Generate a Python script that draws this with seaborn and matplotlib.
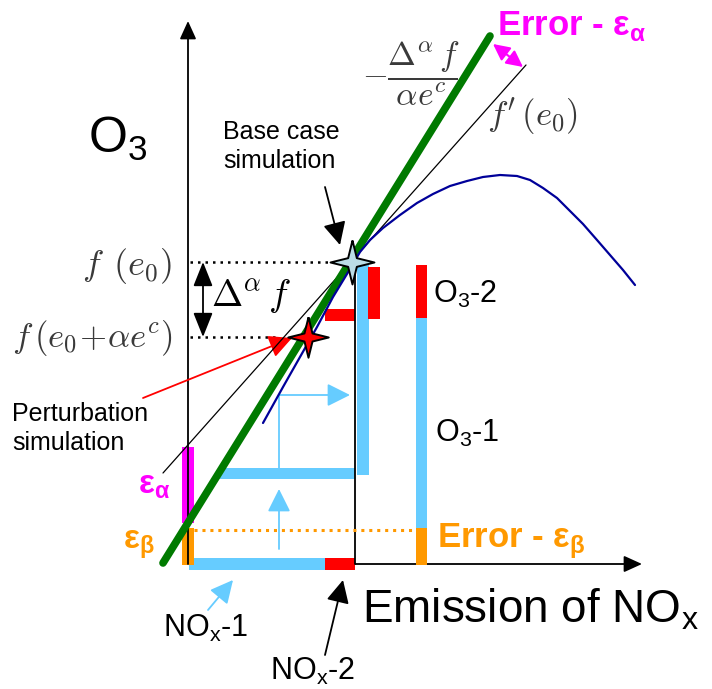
import numpy as np
import matplotlib
matplotlib.use("Agg")
import matplotlib.pyplot as plt
import seaborn as sns

sns.set_theme(style="white")
plt.rcParams["font.family"] = ["Liberation Sans", "DejaVu Sans"]
plt.rcParams["text.color"] = "black"

# response curve O3 = f(NOx) (x: emission, y: O3)
curve_x = [0.75, 0.95, 1.12, 1.29, 1.45, 1.62, 1.72, 1.82, 1.95, 2.12, 2.29,
           2.45, 2.62, 2.79, 2.95, 3.12, 3.29, 3.42, 3.55, 3.69, 3.82, 3.95,
           4.09, 4.22, 4.35, 4.47]
curve_y = [1.41, 1.77, 2.07, 2.37, 2.67, 2.95, 3.12, 3.24, 3.36, 3.49, 3.61,
           3.70, 3.78, 3.83, 3.87, 3.89, 3.88, 3.84, 3.76, 3.66, 3.53, 3.40,
           3.24, 3.09, 2.94, 2.79]

# finite difference line (green) and tangent f'(e0) (black)
fd_x = [-0.25, 3.02]
fd_y = [0.01, 5.28]
tan_x = [-0.25, 3.38]
tan_y = [0.91, 4.99]

# simulations
base_x, base_y = 1.64, 3.02
pert_x, pert_y = 1.20, 2.27

# O3 response split (orange = eps_beta, blue = O3-1, red = O3-2)
o3_bottoms = [-0.01, 0.36, 2.46]
o3_tops = [0.36, 2.46, 2.99]
o3_colors = ["#FF9900", "#66CCFF", "#FF0000"]

# NOx steps
nox1_left, nox1_right = 0.01, 1.37
nox2_left, nox2_right = 1.37, 1.67
mid_left, mid_right, mid_y = 0.30, 1.67, 0.91
eps_b = (-0.01, 0.36)
eps_a = (0.41, 1.17)

fig = plt.figure(figsize=(7.12, 6.89), dpi=100)
ax = fig.add_axes([0, 0, 1, 1])
ax.set_xlim(-1.88, 5.24)
ax.set_ylim(-1.25, 5.64)
ax.axis("off")

BLUE = "#66CCFF"
RED = "#FF0000"
ORANGE = "#FF9900"
MAG = "#FF00FF"
GRAY = "#3a3a3a"

# axes with arrow heads
head = "-|>,head_length=0.55,head_width=0.25"
ax.annotate("", xy=(0, 5.43), xytext=(0, 0),
            arrowprops=dict(arrowstyle=head, color="black", lw=1.3,
                            mutation_scale=20, shrinkA=0, shrinkB=0))
ax.annotate("", xy=(4.54, 0), xytext=(0, 0),
            arrowprops=dict(arrowstyle=head, color="black", lw=1.3,
                            mutation_scale=20, shrinkA=0, shrinkB=0), zorder=1)

# bars
bk = dict(linewidth=0, zorder=2)
ax.barh(0.0, nox1_right - nox1_left, left=nox1_left, height=0.12, color=BLUE, **bk)
ax.barh(0.0, nox2_right - nox2_left, left=nox2_left, height=0.12, color=RED, **bk)
ax.barh(mid_y, mid_right - mid_left, left=mid_left, height=0.11, color=BLUE, **bk)
ax.barh(2.49, 0.30, left=1.37, height=0.12, color=RED, **bk)
ax.bar(0.005, eps_b[1] - eps_b[0], bottom=eps_b[0], width=0.12, color=ORANGE, **bk)
ax.bar(0.005, eps_a[1] - eps_a[0], bottom=eps_a[0], width=0.12, color=MAG, **bk)
ax.bar(1.75, 2.99 - 0.89, bottom=0.89, width=0.12, color=BLUE, **bk)
ax.bar(1.86, 2.97 - 2.45, bottom=2.45, width=0.12, color=RED, **bk)
for b, t, c in zip(o3_bottoms, o3_tops, o3_colors):
    ax.bar(2.335, t - b, bottom=b, width=0.11, color=c, **bk)

# vertical line from base case to x axis
ax.plot([1.67, 1.67], [0, 3.0], color="black", lw=1.3, zorder=3)

# dotted guides
ax.plot([0.02, 1.45], [3.02, 3.02], color="black", lw=1.8, ls=(0, (1, 2)), zorder=3)
ax.plot([0.02, 0.92], [2.27, 2.27], color="black", lw=1.8, ls=(0, (1, 2)), zorder=3)
ax.plot([0.06, 2.28], [0.34, 0.34], color=ORANGE, lw=2.2, ls=(0, (1, 1.6)), zorder=3)

# light blue thin arrows
thin = dict(arrowstyle="-|>,head_length=0.7,head_width=0.35", color=BLUE, lw=1.3,
            mutation_scale=20, shrinkA=0, shrinkB=0)
ax.annotate("", xy=(0.91, 0.75), xytext=(0.91, 0.15), arrowprops=thin)
ax.plot([0.91, 0.91], [0.96, 1.69], color=BLUE, lw=1.3, zorder=3)
ax.annotate("", xy=(1.62, 1.69), xytext=(0.91, 1.69), arrowprops=thin)
ax.annotate("", xy=(0.45, -0.16), xytext=(0.20, -0.46), arrowprops=thin)

# curves
sns.lineplot(x=tan_x, y=tan_y, color="black", lw=0.9, ax=ax, zorder=4)
sns.lineplot(x=fd_x, y=fd_y, color="#007A00", lw=5.5, ax=ax, zorder=5)
sns.lineplot(x=curve_x, y=curve_y, color="#000099", lw=1.6, ax=ax, zorder=6,
             sort=False, estimator=None, solid_joinstyle="round")

# pointer arrows
blk = dict(arrowstyle="-|>,head_length=0.7,head_width=0.35", color="black", lw=1.3,
           mutation_scale=20, shrinkA=0, shrinkB=0)
ax.annotate("", xy=(1.52, 3.19), xytext=(1.37, 3.77), arrowprops=blk)
ax.annotate("", xy=(1.55, -0.16), xytext=(1.37, -0.91), arrowprops=blk)
red = dict(blk, color=RED)
ax.annotate("", xy=(1.04, 2.26), xytext=(-0.45, 1.66), arrowprops=red)
ax.annotate("", xy=(3.05, 5.20), xytext=(3.35, 4.97),
            arrowprops=dict(arrowstyle="<|-|>,head_length=0.5,head_width=0.25",
                            color=MAG, lw=1.5, mutation_scale=20, shrinkA=0, shrinkB=0))

# Δ double arrow
ax.annotate("", xy=(0.15, 3.02), xytext=(0.15, 2.27),
            arrowprops=dict(arrowstyle="<|-|>,head_length=0.75,head_width=0.3",
                            color="black", lw=1.3, mutation_scale=20, shrinkA=0, shrinkB=0))

# stars
t = np.arange(9) * np.pi / 4 + np.pi / 2
r = np.where(np.arange(9) % 2 == 0, 1.0, 0.28)
star = list(zip(r * np.cos(t), r * np.sin(t)))
ax.scatter([pert_x], [pert_y], marker=star, s=850, color=RED, edgecolor="black",
           linewidth=1.4, zorder=8)
ax.scatter([base_x], [base_y], marker=star, s=1000, color="#BBDDE6", edgecolor="black",
           linewidth=1.4, zorder=9)

# texts
ax.text(-1.00, 4.11, r"O$_\mathregular{3}$", fontsize=36, va="baseline")
ax.text(0.35, 4.44, "Base case\nsimulation", fontsize=18, va="top", linespacing=1.25)
ax.text(-1.76, 1.62, "Perturbation\nsimulation", fontsize=18, va="top", linespacing=1.25)
ax.text(3.09, 5.29, r"Error - ε$_\mathregular{α}$", fontsize=25, weight="bold",
        color=MAG, va="baseline")
ax.text(2.49, 0.16, r"Error - ε$_\mathregular{β}$", fontsize=25, weight="bold",
        color=ORANGE, va="baseline")
ax.text(-0.50, 0.71, r"ε$_\mathregular{α}$", fontsize=24, weight="bold", color=MAG,
        va="baseline")
ax.text(-0.65, 0.16, r"ε$_\mathregular{β}$", fontsize=24, weight="bold", color=ORANGE,
        va="baseline")
ax.text(2.45, 2.61, r"O$_\mathregular{3}$-2", fontsize=22, va="baseline")
ax.text(2.47, 1.22, r"O$_\mathregular{3}$-1", fontsize=22, va="baseline")
ax.text(1.74, -0.58, r"Emission of NO$_\mathregular{x}$", fontsize=33, va="baseline")
ax.text(-0.25, -0.73, r"NO$_\mathregular{x}$-1", fontsize=22, va="baseline")
ax.text(0.82, -1.16, r"NO$_\mathregular{x}$-2", fontsize=22, va="baseline")

ax.text(2.23, 4.90, r"$-\dfrac{\Delta^{\alpha}\, f}{\alpha e^{c}}$", fontsize=24,
        math_fontfamily="cm", color=GRAY, ha="center", va="center")
ax.text(2.99, 4.47, r"$f^{\prime}\,(e_0)$", fontsize=25, math_fontfamily="cm",
        color=GRAY, va="center")
ax.text(-0.16, 2.98, r"$f\;\,(e_0)$", fontsize=26, math_fontfamily="cm",
        color=GRAY, ha="right", va="center")
ax.text(-0.16, 2.26, r"$f\,(e_0\!+\!\alpha e^c)$", fontsize=25, math_fontfamily="cm",
        color=GRAY, ha="right", va="center")
ax.text(0.23, 2.67, r"$\Delta^{\alpha}\, f$", fontsize=27, math_fontfamily="cm",
        color="black", va="center")

fig.savefig("out.png", dpi=100)
